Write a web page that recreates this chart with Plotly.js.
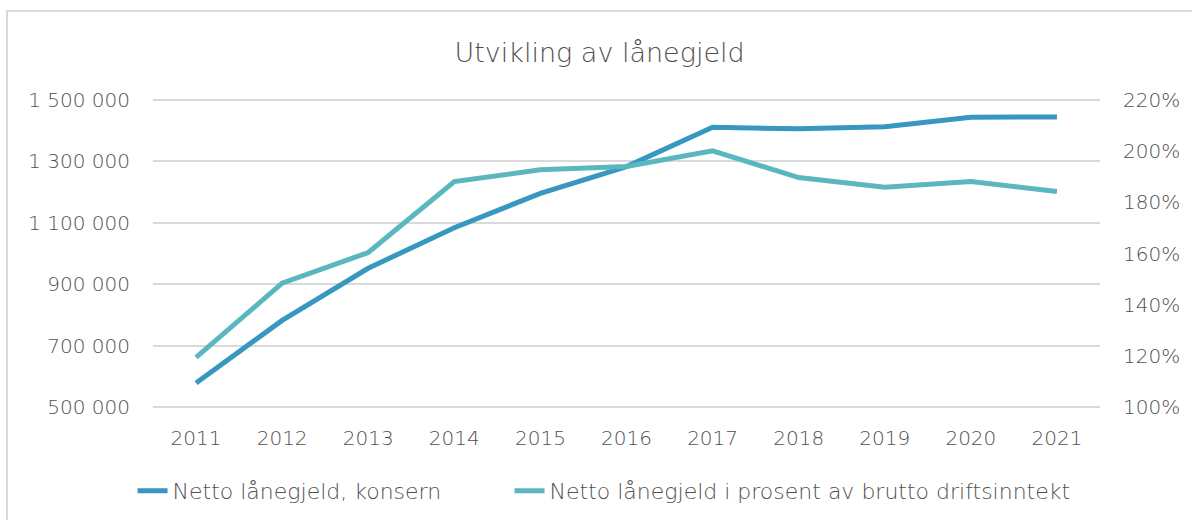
<!DOCTYPE html>
<html>
<head>
<meta charset="utf-8">
<script src="https://cdn.plot.ly/plotly-3.0.1.min.js"></script>
<style>
  html, body { margin: 0; padding: 0; background: #ffffff; }
  #wrap { position: relative; width: 1192px; height: 520px; overflow: hidden; }
  #frame { position: absolute; left: 6px; top: 10px; width: 1300px; height: 600px;
           border-left: 2px solid #d9d9d9; border-top: 2px solid #d9d9d9; box-sizing: border-box; pointer-events: none; }
  #chart { position: absolute; left: 0; top: 0; width: 1192px; height: 520px; }
</style>
</head>
<body>
<div id="wrap">
  <div id="chart"></div>
  <div id="frame"></div>
</div>
<script>
const years = ["2011","2012","2013","2014","2015","2016","2017","2018","2019","2020","2021"];
const nettoLanegjeld = [578000, 782000, 952000, 1084000, 1196000, 1283000, 1411000, 1406000, 1413000, 1444000, 1445000];
const prosentAvDriftsinntekt = [119.4, 148.4, 160.4, 188.1, 192.7, 194.0, 200.1, 189.7, 185.9, 188.1, 184.2];
const seriesNames = ["Netto lånegjeld, konsern", "Netto lånegjeld i prosent av brutto driftsinntekt"];
const chartTitle = "Utvikling av lånegjeld";

const fontFam = "DejaVu Sans, Verdana, sans-serif";
const textColor = "#505050";
const lightW = 300;

const traces = [
  {
    x: years, y: nettoLanegjeld, name: seriesNames[0], type: "scatter", mode: "lines",
    line: { color: "#3797bf", width: 5, shape: "linear" }, yaxis: "y", legendwidth: 332
  },
  {
    x: years, y: prosentAvDriftsinntekt, name: seriesNames[1], type: "scatter", mode: "lines",
    line: { color: "#5bb7bf", width: 5, shape: "linear" }, yaxis: "y2"
  }
];

const tickFont = { family: fontFam, size: 20, color: textColor, weight: lightW };

const layout = {
  width: 1192, height: 520,
  paper_bgcolor: "rgba(0,0,0,0)", plot_bgcolor: "rgba(0,0,0,0)",
  separators: ", ",
  margin: { l: 153, r: 92, t: 98, b: 111, pad: 0, autoexpand: false },
  font: { family: fontFam, color: textColor, size: 20, weight: lightW },
  title: { text: chartTitle, x: 0.503, xanchor: "center", y: 0.898, yanchor: "middle",
           font: { family: fontFam, size: 27, color: textColor, weight: lightW } },
  showlegend: true,
  legend: { orientation: "h", xref: "container", yref: "container", x: 0.1112, xanchor: "left",
            y: 0.056, yanchor: "middle",
            font: { family: fontFam, size: 22, color: textColor, weight: lightW },
            itemwidth: 30, traceorder: "normal" },
  xaxis: {
    type: "category", range: [-0.5, 10.5], showgrid: false, zeroline: false, showline: false,
    ticks: "", ticklabelstandoff: 15, tickfont: tickFont, fixedrange: true
  },
  yaxis: {
    range: [493500, 1506500], dtick: 200000, tick0: 500000, tickformat: ",d",
    showgrid: true, gridcolor: "#d9d9d9", gridwidth: 2, zeroline: false, showline: false,
    ticks: "", ticklabelstandoff: 22, tickfont: tickFont, fixedrange: true
  },
  yaxis2: {
    overlaying: "y", side: "right", range: [99.22, 220.78], dtick: 20, tick0: 100, ticksuffix: "%",
    showgrid: false, zeroline: false, showline: false,
    ticks: "", ticklabelstandoff: 22, tickfont: tickFont, fixedrange: true
  }
};

Plotly.newPlot("chart", traces, layout, { displayModeBar: false, staticPlot: true });
</script>
</body>
</html>
